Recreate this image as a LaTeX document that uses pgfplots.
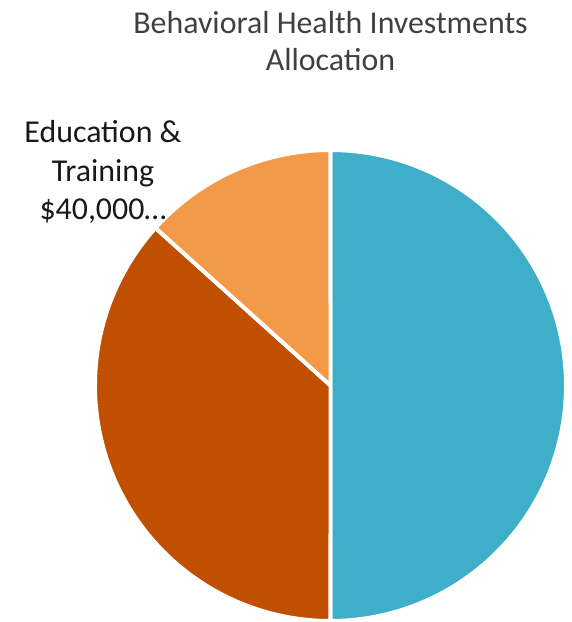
\documentclass[border=0pt]{standalone}
\usepackage{fontspec}
\setmainfont{Carlito}
\usepackage{pgfplots}
\pgfplotsset{compat=1.18}
\definecolor{sliceA}{HTML}{3FAFC9}
\definecolor{sliceB}{HTML}{C05000}
\definecolor{sliceC}{HTML}{F39A48}
\definecolor{titlegray}{HTML}{404040}
\begin{document}
\begin{tikzpicture}
% values of the three slices, in thousands of dollars
\def\valA{150}
\def\valB{110}
\def\valC{40}
\pgfmathsetmacro{\tot}{\valA+\valB+\valC}
\pgfmathsetmacro{\aA}{90-\valA/\tot*360}
\pgfmathsetmacro{\aB}{\aA-\valB/\tot*360}
\pgfmathsetmacro{\aC}{\aB-\valC/\tot*360}
\useasboundingbox (-330.5bp,-236.5bp) rectangle (241.5bp,385.5bp);
\begin{axis}[
    at={(0,0)}, anchor=center,
    scale only axis,
    width=471bp, height=471bp,
    xmin=-1, xmax=1, ymin=-1, ymax=1,
    hide axis,
    clip=false,
]
\addplot[fill=sliceA, draw=white, line width=4pt, line join=round, domain=\aA:90, samples=181]
    ({cos(x)},{sin(x)}) -- (axis cs:0,0) -- cycle;
\addplot[fill=sliceB, draw=white, line width=4pt, line join=round, domain=\aB:\aA, samples=133]
    ({cos(x)},{sin(x)}) -- (axis cs:0,0) -- cycle;
\addplot[fill=sliceC, draw=white, line width=4pt, line join=round, domain=\aC:\aB, samples=49]
    ({cos(x)},{sin(x)}) -- (axis cs:0,0) -- cycle;
\end{axis}
\node[align=center, text=titlegray, font=\fontsize{32}{38}\selectfont] at (0,344.5bp)
    {Behavioral Health Investments\\Allocation};
\node[align=center, text=black!90, font=\fontsize{32}{39}\selectfont] at (-227.5bp,213.5bp)
    {Education \&\\Training\\\$40,000…};
\end{tikzpicture}
\end{document}
